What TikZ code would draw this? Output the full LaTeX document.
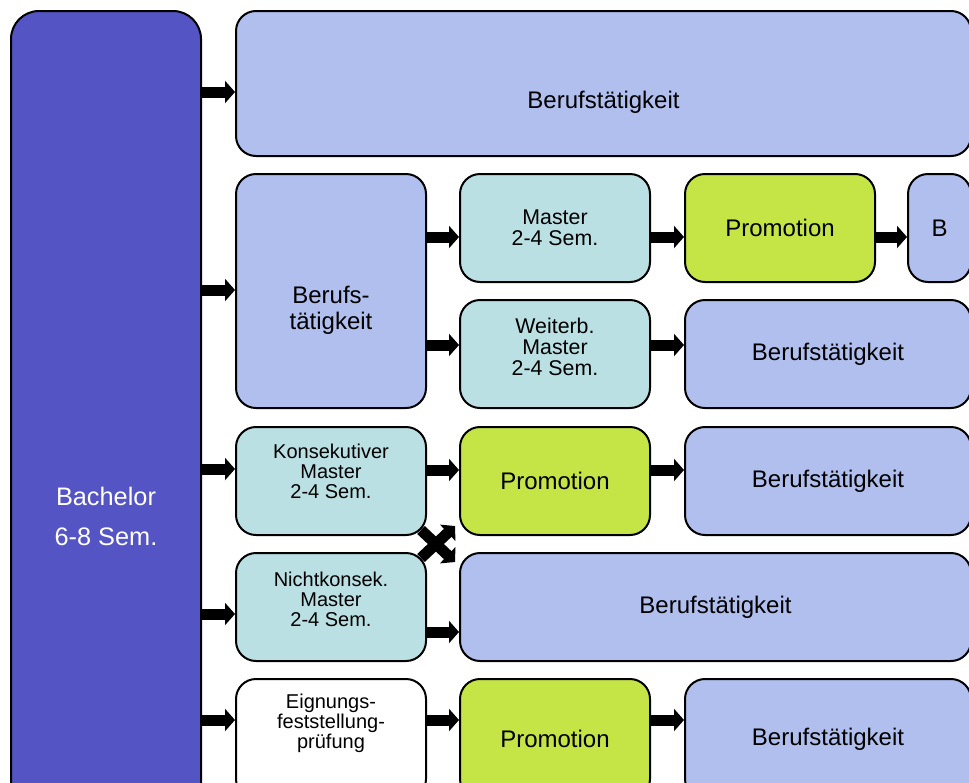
\documentclass[tikz,border=0pt]{standalone}
\usepackage{fontspec}
\setmainfont{Liberation Sans}
\usetikzlibrary{arrows.meta,positioning}
\definecolor{bachelorblue}{RGB}{84,84,196}
\definecolor{jobblue}{RGB}{176,191,238}
\definecolor{mastercyan}{RGB}{186,224,227}
\definecolor{promogreen}{RGB}{197,228,70}

\begin{document}
\begin{tikzpicture}[x=0.75pt, y=-0.75pt,
	basic/.style   = {draw, line width=1.5pt, rounded corners=15pt, inner sep=2pt, align=center, anchor=north west},
	bachelor/.style = {basic, fill=bachelorblue, text=white, rounded corners=21pt, minimum width=142.5pt, minimum height=757.5pt, font=\fontsize{19}{30}\selectfont},
	job/.style     = {basic, fill=jobblue, minimum height=81pt, font=\fontsize{18}{19.5}\selectfont},
	master/.style  = {basic, fill=mastercyan, minimum width=142.5pt, minimum height=81pt, font=\fontsize{16}{15.5}\selectfont},
	study/.style   = {master, font=\fontsize{15}{15}\selectfont},
	promo/.style   = {basic, fill=promogreen, minimum width=142.5pt, minimum height=81pt, font=\fontsize{18}{19.5}\selectfont},
	arr/.style     = {->, line width=8.25pt},
	>={Triangle[length=7.5pt,width=16.5pt]}]

	\useasboundingbox (0,0) rectangle (969,782);
	\clip (0,0) rectangle (969,782);

	% Bachelor column
	\node[bachelor] (bachelor) at (10,10) {Bachelor\\6-8 Sem.};

	% Row 1
	\node[job, minimum width=551.25pt, minimum height=108.75pt, text height=41pt] (beruf1) at (235,10) {Berufstätigkeit};

	% Row 2
	\node[job, minimum width=142.5pt, minimum height=175.5pt, text height=61pt] (beruf2) at (235,173) {Berufs-\\tätigkeit};
	\node[master] (master2) at (459,173) {Master\\2-4 Sem.};
	\node[promo] (promo2) at (684,173) {Promotion};
	\node[job, minimum width=47.25pt] (b2) at (907,173) {B};
	\node[master, text depth=11pt] (weiter) at (459,299) {Weiterb.\\Master\\2-4 Sem.};
	\node[job, minimum width=214.5pt] (beruf2b) at (684,299) {Berufstätigkeit};

	% Row 3
	\node[study, text depth=15pt] (konsek) at (235,426) {Konsekutiver\\Master\\2-4 Sem.};
	\node[promo] (promo3) at (459,426) {Promotion};
	\node[job, minimum width=214.5pt] (beruf3) at (684,426) {Berufstätigkeit};

	% Row 4
	\node[study, text depth=11pt] (nicht) at (235,552) {Nichtkonsek.\\Master\\2-4 Sem.};
	\node[job, minimum width=383.25pt] (beruf4) at (459,552) {Berufstätigkeit};

	% Row 5
	\node[study, fill=white, minimum height=90pt, text depth=26pt] (eignung) at (235,678) {Eignungs-\\feststellung-\\prüfung};
	\node[promo, minimum height=90pt] (promo5) at (459,678) {Promotion};
	\node[job, minimum width=214.5pt, minimum height=90pt] (beruf5) at (684,678) {Berufstätigkeit};

	% Arrows out of the Bachelor
	\foreach \target/\y in {beruf1/92, beruf2/290, konsek/469, nicht/614, eignung/720}
	\draw[arr] (bachelor.east |- 0,\y) -- (\target.west |- 0,\y);

	% Arrows between the columns
	\foreach \from/\to/\y in {beruf2/master2/237, beruf2/weiter/345, master2/promo2/237, promo2/b2/237,
		weiter/beruf2b/345, konsek/promo3/470, promo3/beruf3/470, nicht/beruf4/632,
		eignung/promo5/720, promo5/beruf5/720}
	\draw[arr] (\from.east |- 0,\y) -- (\to.west |- 0,\y);

	% Crossing arrows
	\draw[arr] ([shift={(-6,-6)}]konsek.south east) -- ([shift={(-4,10)}]beruf4.north west);
	\draw[arr] ([shift={(-6,6)}]nicht.north east) -- ([shift={(-4,-10)}]promo3.south west);

\end{tikzpicture}
\end{document}
